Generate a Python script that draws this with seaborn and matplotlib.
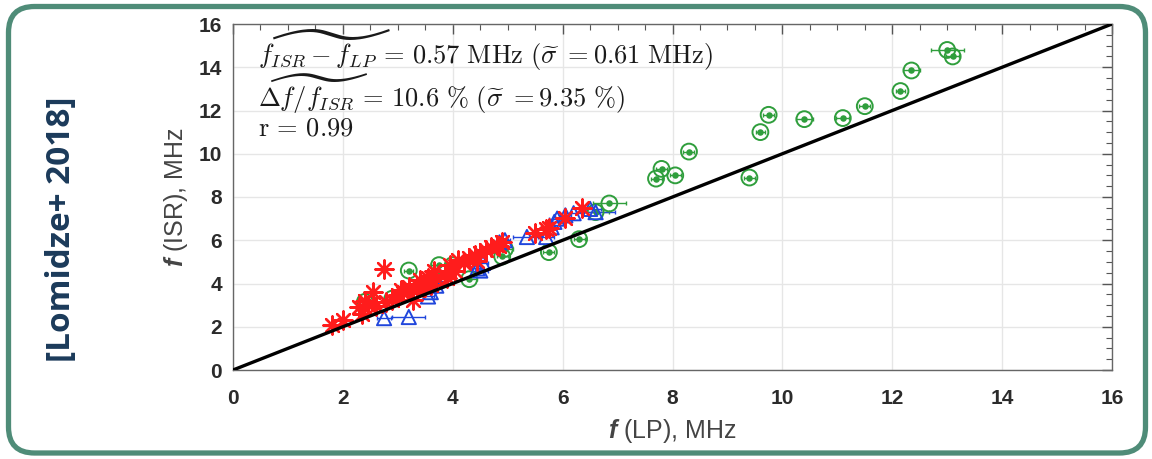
import matplotlib
matplotlib.use("Agg")
import matplotlib.pyplot as plt
import matplotlib.transforms as mtransforms
from matplotlib.patches import FancyBboxPatch
from matplotlib.ticker import MultipleLocator
import seaborn as sns
import pandas as pd

# ---------------- data ----------------
green_x = [13.0, 13.1, 12.35, 12.15, 11.5, 11.1, 10.4, 9.75, 9.6, 9.4, 8.3, 7.8, 8.05, 7.7,
           6.85, 6.6, 6.3, 5.75, 4.95, 4.9, 4.3, 4.0, 3.75, 3.2, 2.9, 2.4]
green_y = [14.8, 14.5, 13.85, 12.9, 12.2, 11.65, 11.6, 11.8, 11.0, 8.9, 10.1, 9.3, 9.0, 8.85,
           7.7, 7.3, 6.05, 5.45, 5.6, 5.25, 4.2, 4.85, 4.85, 4.6, 3.3, 3.15]
green_xerr = [0.3, 0.12, 0.15, 0.08, 0.1, 0.12, 0.15, 0.1, 0.08, 0.1, 0.1, 0.1, 0.1, 0.1,
              0.3, 0.25, 0.1, 0.1, 0.15, 0.1, 0.15, 0.1, 0.15, 0.08, 0.1, 0.1]

blue_x = [2.75, 3.2, 3.55, 3.6, 3.7, 3.75, 4.45, 4.5, 4.55, 4.85, 4.95, 5.35, 5.7, 5.8,
          5.85, 5.9, 6.05, 6.2, 6.5, 6.6]
blue_y = [2.4, 2.45, 3.4, 3.6, 3.9, 4.4, 4.7, 4.6, 4.95, 5.9, 6.0, 6.15, 6.15, 6.6,
          6.85, 7.0, 7.15, 7.25, 7.45, 7.3]
blue_xerr = [0.12, 0.3, 0.1, 0.1, 0.12, 0.1, 0.1, 0.15, 0.1, 0.12, 0.1, 0.25, 0.15, 0.1,
             0.1, 0.15, 0.1, 0.15, 0.2, 0.35]

red_x = [1.8, 2.0, 2.3, 2.35, 2.45, 2.55, 2.6, 2.75, 2.78, 2.9, 3.0, 3.1, 3.2, 3.28, 3.35,
         3.4, 3.5, 3.55, 3.65, 3.7, 3.85, 3.9, 3.95, 4.1, 4.2, 4.3, 4.4, 4.5, 4.6, 4.7,
         4.8, 4.9, 5.5, 5.7, 5.75, 6.05, 6.35, 3.05, 3.45, 4.05, 2.4, 3.6, 4.45, 4.85]
red_y = [2.1, 2.3, 2.9, 2.6, 3.0, 3.6, 2.95, 4.65, 3.15, 3.25, 3.45, 3.55, 3.85, 3.25, 3.7,
         4.15, 3.85, 4.25, 4.6, 4.25, 4.4, 4.25, 4.85, 5.1, 4.95, 5.2, 5.3, 5.4, 5.55, 5.7,
         5.8, 5.9, 6.35, 6.5, 6.55, 7.05, 7.5, 3.7, 4.0, 4.6, 3.2, 3.95, 5.05, 5.75]

line_x = [0, 16]
line_y = [0, 16]

x_ticks = [0, 2, 4, 6, 8, 10, 12, 14, 16]
y_ticks = [0, 2, 4, 6, 8, 10, 12, 14, 16]

stat_lines = [
    r"$\widetilde{f_{ISR}-f_{LP}}\,=\,0.57\ \mathrm{MHz}\ (\widetilde{\sigma}\ {=}0.61\ \mathrm{MHz})$",
    r"$\widetilde{\Delta f/f_{ISR}}\,=\,10.6\ \%\ (\widetilde{\sigma}\ {=}9.35\ \%)$",
    r"$\mathrm{r}\,=\,0.99$",
]

# ---------------- style ----------------
sns.set_theme(style="white")
plt.rcParams["font.family"] = ["Liberation Sans", "DejaVu Sans"]
plt.rcParams["mathtext.fontset"] = "custom"
plt.rcParams["mathtext.rm"] = "Liberation Sans"
plt.rcParams["mathtext.bfit"] = "Liberation Sans:italic:bold"

W, H = 1152, 459
fig = plt.figure(figsize=(W / 100, H / 100), dpi=100)
ax = fig.add_axes([233 / W, 1 - 370 / H, (1112 - 233) / W, (370 - 24) / H])

GREEN = "#2f9e3c"
BLUE = "#2046dc"
RED = "#ff1c1c"

# error bars
ax.errorbar(green_x, green_y, xerr=green_xerr, fmt="none", ecolor=GREEN, elinewidth=1.0,
            capsize=1.5, zorder=2)
ax.errorbar(blue_x, blue_y, xerr=blue_xerr, fmt="none", ecolor=BLUE, elinewidth=1.0,
            capsize=1.5, zorder=2)

# markers
dg = pd.DataFrame({"x": green_x, "y": green_y})
db = pd.DataFrame({"x": blue_x, "y": blue_y})
dr = pd.DataFrame({"x": red_x, "y": red_y})

sns.scatterplot(data=dg, x="x", y="y", ax=ax, marker="o", s=130, facecolors="none",
                edgecolor=GREEN, linewidth=1.4, zorder=3)
sns.scatterplot(data=dg, x="x", y="y", ax=ax, marker="o", s=22, color=GREEN,
                edgecolor=GREEN, linewidth=0, zorder=3)
sns.scatterplot(data=db, x="x", y="y", ax=ax, marker="^", s=105, facecolors="none",
                edgecolor=BLUE, linewidth=1.4, zorder=3)
sns.scatterplot(data=dr, x="x", y="y", ax=ax, marker=(8, 2, 0), s=170, color=RED,
                edgecolor=RED, linewidth=1.7, zorder=4)

sns.lineplot(x=line_x, y=line_y, ax=ax, color="black", linewidth=2.4, zorder=5)

# axes
ax.set_xlim(0, 16)
ax.set_ylim(0, 16)
ax.set_xticks(x_ticks)
ax.set_yticks(y_ticks)
ax.set_xticklabels([str(t) for t in x_ticks])
ax.set_yticklabels([str(t) for t in y_ticks])
ax.xaxis.set_minor_locator(MultipleLocator(0.5))
ax.yaxis.set_minor_locator(MultipleLocator(0.5))
ax.grid(True, which="major", color="#e6e6e6", linewidth=1.0)
ax.set_axisbelow(True)
ax.tick_params(which="both", direction="in", top=True, right=True, colors="#555555")
ax.tick_params(which="major", length=7, width=1.0)
ax.tick_params(which="minor", length=4, width=0.8)
ax.tick_params(axis="x", which="major", pad=14, labelcolor="#2b2b2b", labelsize=15)
ax.tick_params(axis="y", which="major", pad=8, labelcolor="#2b2b2b", labelsize=15)
for lab in ax.get_xticklabels() + ax.get_yticklabels():
    lab.set_fontweight("bold")
for sp in ax.spines.values():
    sp.set_color("#666666")
    sp.set_linewidth(1.0)

ax.set_xlabel(r"$\mathbfit{f}$ (LP), MHz", fontsize=18, color="#444444", labelpad=6)
ax.set_ylabel(r"$\mathbfit{f}$ (ISR), MHz", fontsize=18, color="#444444", labelpad=6)

# statistics text (one block, three lines)
ax.text(0.028, 0.99, "\n".join(stat_lines), transform=ax.transAxes, fontsize=19,
        color="#1a1a1a", math_fontfamily="cm", va="top", ha="left", linespacing=1.0,
        zorder=6)

# rounded border
border = FancyBboxPatch((8.5, 6.0), 1137, 446.5,
                        boxstyle="round,pad=0,rounding_size=26",
                        transform=mtransforms.IdentityTransform(),
                        facecolor="none", edgecolor="#4f8c78", linewidth=3.8,
                        zorder=0)
fig.patches.append(border)

fig.text(62 / W, 1 - 229 / H, "[Lomidze+ 2018]", rotation=90, ha="center", va="center",
         fontsize=24, fontweight="bold", color="#1b3a5a", family=["Open Sans", "DejaVu Sans"])

fig.savefig("out.png", dpi=100)
